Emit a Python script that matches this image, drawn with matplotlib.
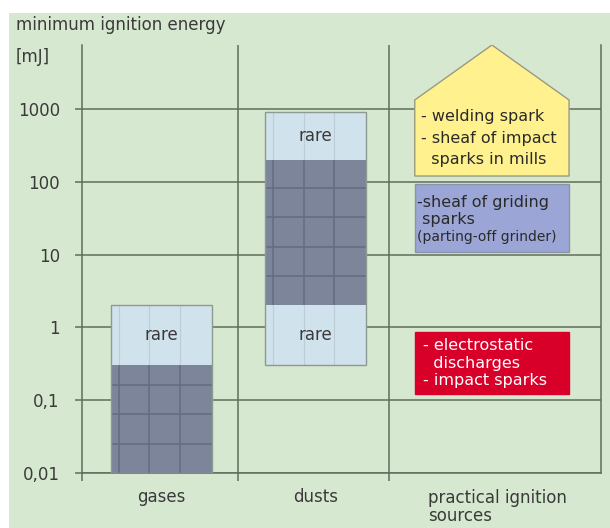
import numpy as np
import matplotlib.pyplot as plt
from matplotlib.patches import Rectangle, Polygon
import matplotlib.transforms as mtransforms

# substances: typical range (dark) and rarely met ranges (light)
substances = ['gases', 'dusts']
typical_low = [0.01, 2]
typical_high = [0.3, 200]
rare_ranges = [[(0.3, 2)], [(0.3, 2), (200, 900)]]

# practical ignition sources, energy ranges in mJ
source_label = 'practical ignition\nsources'
source_text = ['- welding spark\n- sheaf of impact\n  sparks in mills',
               '-sheaf of griding\n sparks',
               '- electrostatic\n  discharges\n- impact sparks']
source_low = [120, 11, 0.12]
source_high = [1330, 93, 0.86]
source_colors = ['#fff18d', '#9ba6d6', '#d80028']

yticks = [0.01, 0.1, 1, 10, 100, 1000]
yticklabels = ['0,01', '0,1', '1', '10', '100', '1000']

bg = '#d7e8d0'
gridc = '#5f6d5d'
txtc = '#3a3a3a'
dark = '#7d859b'
light = '#d0e2ec'

plt.rcParams['font.family'] = ['DejaVu Sans']

fig = plt.figure(figsize=(6.1, 5.28), dpi=100, facecolor='white')
fig.patches.append(Rectangle((9 / 610, 0), 1, 1 - 13 / 528, transform=fig.transFigure,
                             facecolor=bg, edgecolor='none', zorder=-10))
ax = fig.add_axes([82 / 610, 1 - 473 / 528, 519 / 610, 428 / 528])
ax.set_facecolor('none')
ax.set_yscale('log')
ax.set_ylim(0.01, 7570)
xmax = 3.33
ax.set_xlim(0, xmax)

# grid
for y in yticks:
    ax.axhline(y, color=gridc, lw=1.1, zorder=1)
for x in [1, 1.97]:
    ax.axvline(x, color=gridc, lw=1.1, zorder=1)
ax.spines['top'].set_visible(False)
for s in ['left', 'right', 'bottom']:
    ax.spines[s].set_color(gridc)
    ax.spines[s].set_linewidth(1.1)

ax.set_yticks(yticks)
ax.set_yticklabels(yticklabels)
ax.yaxis.set_minor_locator(plt.NullLocator())
ax.tick_params(axis='y', length=5, width=1.1, color=gridc, pad=11, labelsize=12, labelcolor=txtc)
ax.set_xticks([0, 1, 1.97])
ax.set_xticklabels([])
ax.tick_params(axis='x', length=6, width=1.1, color=gridc)

bw = 0.65
centers = [0.51, 1.5]
for i, name in enumerate(substances):
    xc = centers[i]
    x0 = xc - bw / 2
    lo, hi = typical_low[i], typical_high[i]
    ax.bar(xc, hi - lo, bottom=lo, width=bw, color=dark, edgecolor='none', zorder=3)
    for rlo, rhi in rare_ranges[i]:
        ax.bar(xc, rhi - rlo, bottom=rlo, width=bw, color=light, edgecolor='none', zorder=3)
        ax.text(xc, np.sqrt(rlo * rhi), 'rare', ha='center', va='center',
                fontsize=12, color=txtc, zorder=5)
        for k in range(3):
            xv = x0 + bw * (0.08 + 0.3 * k)
            ax.plot([xv, xv], [rlo, rhi], color='#bccdd8', lw=0.8, zorder=4,
                    solid_capstyle='butt')
    # texture inside the dark part
    for k in range(3):
        xv = x0 + bw * (0.08 + 0.3 * k)
        ax.plot([xv, xv], [lo, hi], color='#646c82', lw=1.1, zorder=4, solid_capstyle='butt')
    ly = np.log10(lo) + 0.405
    while ly < np.log10(hi) - 0.05:
        ax.plot([x0, x0 + bw], [10 ** ly, 10 ** ly], color='#646c82', lw=1.1, zorder=4,
                solid_capstyle='butt')
        ly += 0.405
    # outline
    top = max([typical_high[i]] + [r[1] for r in rare_ranges[i]])
    bot = min([typical_low[i]] + [r[0] for r in rare_ranges[i]])
    ax.add_patch(Rectangle((x0, bot), bw, top - bot, fill=False, edgecolor='#8d9a92',
                           lw=1.0, zorder=4))

# practical ignition sources
sc = 2.63
sw = 0.99
sx0 = sc - sw / 2
# open-ended top range drawn as an arrow shape
ax.add_patch(Polygon([(sx0, source_low[0]), (sx0 + sw, source_low[0]),
                      (sx0 + sw, source_high[0]), (sc, 7570), (sx0, source_high[0])],
                     closed=True, facecolor=source_colors[0], edgecolor='#9a9a80',
                     lw=1.0, zorder=3))
for i in [1, 2]:
    ax.add_patch(Rectangle((sx0, source_low[i]), sw, source_high[i] - source_low[i],
                           facecolor=source_colors[i],
                           edgecolor='#8a94a8' if i == 1 else source_colors[i],
                           lw=1.0, zorder=3))

ax.text(sx0 + 0.04, np.sqrt(source_low[0] * source_high[0]), source_text[0],
        ha='left', va='center', fontsize=11.5, color='#2a2a2a', linespacing=1.55, zorder=5)
ax.text(sx0 + 0.015, 10 ** 1.6, source_text[1], ha='left', va='center',
        fontsize=11.5, color='#2a2a2a', linespacing=1.2, zorder=5)
ax.text(sx0 + 0.015, 10 ** 1.24, '(parting-off grinder)', ha='left', va='center',
        fontsize=10, color='#2a2a2a', zorder=5)
ax.text(sx0 + 0.05, np.sqrt(source_low[2] * source_high[2]), source_text[2],
        ha='left', va='center', fontsize=11.5, color='white', linespacing=1.2, zorder=5)

# category labels
trans = mtransforms.blended_transform_factory(ax.transData, ax.transAxes)
for i, name in enumerate(substances):
    ax.text(centers[i], -0.057, name, transform=trans, ha='center', va='center',
            fontsize=12, color=txtc)
ax.text(2.22, -0.038, source_label, transform=trans, ha='left', va='top',
        fontsize=12, color=txtc, linespacing=1.0)
fig.text(16 / 610, 1 - 25 / 528, 'minimum ignition energy', ha='left', va='center',
         fontsize=12, color=txtc)
fig.text(16 / 610, 1 - 57 / 528, '[mJ]', ha='left', va='center', fontsize=12, color=txtc)

fig.savefig('out.png', dpi=100, facecolor='white')
